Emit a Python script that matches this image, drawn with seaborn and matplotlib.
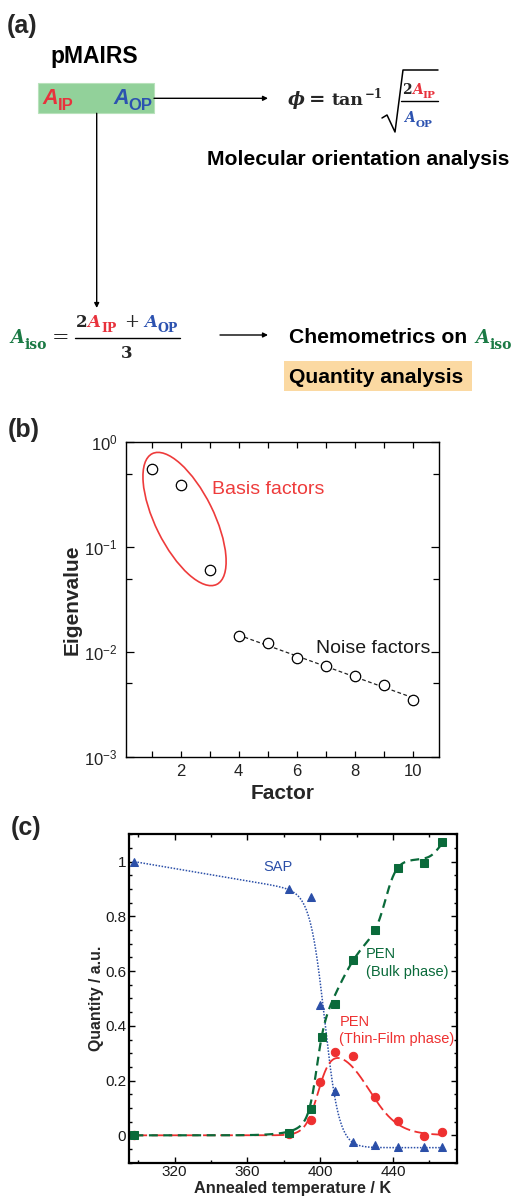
import numpy as np
import pandas as pd
import matplotlib
matplotlib.use("Agg")
import matplotlib.pyplot as plt
import seaborn as sns
from matplotlib.patches import Ellipse, Rectangle, FancyArrowPatch
from matplotlib.lines import Line2D
from matplotlib.ticker import FixedLocator, MultipleLocator, LogLocator, LogFormatterMathtext, NullFormatter, FuncFormatter

# ---------------- data ----------------
factor = [1, 2, 3, 4, 5, 6, 7, 8, 9, 10]
eigenvalue = [0.556, 0.394, 0.061, 0.0141, 0.0121, 0.0087, 0.0073, 0.0059, 0.0048, 0.0035]

temp_sap = [298, 383, 395, 400, 408, 418, 430, 443, 457, 467]
q_sap = [1.0, 0.901, 0.870, 0.475, 0.161, -0.024, -0.035, -0.042, -0.044, -0.041]
temp_bulk = [298, 383, 395, 401, 408, 418, 430, 443, 457, 467]
q_bulk = [0.0, 0.009, 0.097, 0.36, 0.481, 0.64, 0.752, 0.978, 0.996, 1.072]
temp_thin = [298, 383, 395, 400, 408, 418, 430, 443, 457, 467]
q_thin = [0.0, 0.005, 0.055, 0.194, 0.305, 0.29, 0.139, 0.051, -0.002, 0.011]

# fitted-curve model parameters (sigmoid models)
sap_fit = dict(p0=1.0, p1=-0.00113, c=402.5, w=4.0, floor=-0.045)
bulk_fit_terms = [(0.33, 398, 2.2), (0.42, 410, 8.0), (0.26, 436, 3.0), (0.08, 465, 2.5)]
thin_fit = dict(A=0.33, c1=399, w1=3.5, c2=427, w2=8.0)

x_ticks_c = [320, 360, 400, 440]
y_ticks_c = [0, 0.2, 0.4, 0.6, 0.8, 1.0]
x_ticks_b = [2, 4, 6, 8, 10]

# ---------------- style ----------------
sns.set_theme(style="ticks")
plt.rcParams['font.family'] = ['Liberation Sans', 'DejaVu Sans']
plt.rcParams['mathtext.fontset'] = 'custom'
plt.rcParams['mathtext.rm'] = 'Liberation Sans'
plt.rcParams['mathtext.it'] = 'Liberation Sans:italic'
plt.rcParams['mathtext.bf'] = 'Liberation Sans:bold'
plt.rcParams['axes.edgecolor'] = 'black'

W, H = 515, 1197
fig = plt.figure(figsize=(W / 100, H / 100), dpi=100)
fig.patch.set_facecolor('white')
renderer = fig.canvas.get_renderer()

RED = '#e8323c'
BLUE = '#2c52b0'
GREEN = '#1b7a45'
SERIF = 'DejaVu Serif'


def put(x, y, s, **kw):
    kw.setdefault('va', 'baseline')
    kw.setdefault('ha', 'left')
    return fig.text(x / W, 1 - y / H, s, **kw)


def width(t):
    return t.get_window_extent(renderer=renderer).width


def sym(x, y, main, sub, color, size, subsize, family=SERIF, sub_dy=None, gap=0.5):
    t = put(x, y, main, color=color, fontsize=size, family=family, style='italic', weight='bold')
    w = width(t)
    dy = sub_dy if sub_dy is not None else size * 0.3 * 100 / 72
    t2 = put(x + w + gap, y + dy, sub, color=color, fontsize=subsize, family=family, weight='bold')
    return x + w + gap + width(t2)


def fline(xs, ys, **kw):
    fig.add_artist(Line2D([v / W for v in xs], [1 - v / H for v in ys], transform=fig.transFigure, **kw))


def farrow(p0, p1):
    fig.add_artist(FancyArrowPatch((p0[0] / W, 1 - p0[1] / H), (p1[0] / W, 1 - p1[1] / H),
                                   transform=fig.transFigure, arrowstyle='-|>', mutation_scale=7,
                                   lw=1.0, color='black', shrinkA=0, shrinkB=0))


# ---------------- panel (a) ----------------
DARK = '#262626'
put(7, 33, '(a)', fontsize=18, weight='bold', color=DARK)
put(50, 63.5, 'pMAIRS', fontsize=16.5, weight='bold', color='black')

fig.add_artist(Rectangle((38.3 / W, 1 - 113.3 / H), (154 - 38.3) / W, 30 / H, transform=fig.transFigure,
                         facecolor='#92d19a', edgecolor='#b8e2bb', lw=0.8))
sym(42, 104.5, 'A', 'IP', RED, 15.5, 12, family='Liberation Sans', sub_dy=5, gap=0)
sym(113, 104.5, 'A', 'OP', BLUE, 15.5, 12, family='Liberation Sans', sub_dy=5, gap=0)

farrow((154, 98.3), (268, 98.3))
farrow((96.7, 113.3), (96.7, 308))

# phi formula
put(288, 105, 'ϕ', fontsize=13, family=SERIF, style='italic', weight='bold')
put(309, 105, '=', fontsize=14, family=SERIF, weight='bold')
t = put(332, 105, 'tan', fontsize=12.5, family=SERIF, weight='bold')
put(332 + width(t) + 1, 98, '−1', fontsize=8.5, family=SERIF, weight='bold')
fline([382, 387, 395, 403, 438], [118, 115, 132, 70, 70], color='black', lw=1.1)
t2 = put(402, 94.3, '2', fontsize=10, family=SERIF, weight='bold')
sym(402 + width(t2), 94.3, 'A', 'IP', RED, 10, 7.5)
fline([401, 438], [100.7, 100.7], color='black', lw=1.0)
sym(404, 122.5, 'A', 'OP', BLUE, 10, 7.5)

put(207, 165, 'Molecular orientation analysis', fontsize=15.2, weight='bold', color='black')

# A_iso formula
sym(10, 343.3, 'A', 'iso', GREEN, 13, 10)
put(52, 343.3, '=', fontsize=15, family=SERIF)
t3 = put(76, 326.7, '2', fontsize=12, family=SERIF, weight='bold')
sym(76 + width(t3), 326.7, 'A', 'IP', RED, 12, 9)
put(124, 326.7, '+', fontsize=13, family=SERIF)
sym(144, 326.7, 'A', 'OP', BLUE, 12, 9)
fline([75, 180], [338.3, 338.3], color='black', lw=1.0)
put(126.7, 358.3, '3', fontsize=12, family=SERIF, weight='bold', ha='center')

farrow((220, 335), (268, 335))
put(289, 343.3, 'Chemometrics on', fontsize=15.2, weight='bold', color='black')
sym(475, 343.3, 'A', 'iso', GREEN, 13, 10)

fig.add_artist(Rectangle((284 / W, 1 - 390.7 / H), (472 - 284) / W, 30 / H, transform=fig.transFigure,
                         facecolor='#fbd9a2', edgecolor='none'))
put(289, 383.3, 'Quantity analysis', fontsize=15.2, weight='bold', color='black')

# ---------------- panel (b) ----------------
put(8, 437.3, '(b)', fontsize=18, weight='bold', color=DARK)
axb = fig.add_axes([126 / W, 1 - 756.7 / H, (439 - 126) / W, (756.7 - 442.3) / H])
axb.set_yscale('log')

df_b = pd.DataFrame({'factor': factor, 'eigenvalue': eigenvalue})
noise = df_b[df_b['factor'] >= 4]
coef = np.polyfit(noise['factor'], np.log10(noise['eigenvalue']), 1)
fit_x = np.array([noise['factor'].min(), noise['factor'].max()])
fit_df = pd.DataFrame({'factor': fit_x, 'eigenvalue': 10 ** np.polyval(coef, fit_x)})
sns.lineplot(data=fit_df, x='factor', y='eigenvalue', ax=axb, color='#222222', lw=0.9,
             linestyle=(0, (3, 2)), errorbar=None)
sns.lineplot(data=df_b, x='factor', y='eigenvalue', ax=axb, linestyle='', marker='o', markersize=7.5,
             markerfacecolor='white', markeredgecolor='black', markeredgewidth=0.9, errorbar=None)

axb.set_xlim(0.12, 10.9)
axb.set_ylim(1e-3, 1)
axb.xaxis.set_major_locator(FixedLocator(x_ticks_b))
axb.xaxis.set_minor_locator(FixedLocator([1, 3, 5, 7, 9]))
axb.yaxis.set_major_locator(LogLocator(base=10, numticks=10))
axb.yaxis.set_minor_locator(LogLocator(base=10, subs=[5.0], numticks=10))
axb.yaxis.set_major_formatter(LogFormatterMathtext())
axb.yaxis.set_minor_formatter(NullFormatter())
axb.tick_params(which='both', direction='in', top=True, right=True, width=0.9, colors='black',
                labelsize=12, labelcolor='#222222')
axb.tick_params(axis='x', which='both', length=4, pad=5)
axb.tick_params(axis='y', which='major', length=6, pad=6)
axb.tick_params(axis='y', which='minor', length=4)
for sp in axb.spines.values():
    sp.set_linewidth(1.0)
axb.set_xlabel('Factor', fontsize=15, weight='bold', labelpad=4)
axb.set_ylabel('Eigenvalue', fontsize=15, weight='bold', labelpad=2)

axb.add_patch(Ellipse((0.187, 0.756), 0.187, 0.464, angle=26.4, transform=axb.transAxes,
                      fill=False, edgecolor='#ee3b3b', lw=1.2))
axb.text(0.274, 0.850, 'Basis factors', transform=axb.transAxes, color='#ee3b3b', fontsize=14, va='center')
axb.text(0.607, 0.345, 'Noise factors', transform=axb.transAxes, color='#1a1a1a', fontsize=14, va='center')

# ---------------- panel (c) ----------------
put(11, 835, '(c)', fontsize=18, weight='bold', color=DARK)
axc = fig.add_axes([129 / W, 1 - 1162.7 / H, (456.7 - 129) / W, (1162.7 - 834.3) / H])


def sig(z):
    return 1.0 / (1.0 + np.exp(-z))


T = np.linspace(298, 467, 400)
s = 1 - sig((T - sap_fit['c']) / sap_fit['w'])
sap_curve = (sap_fit['p0'] + sap_fit['p1'] * (T - 298)) * s + sap_fit['floor'] * (1 - s)
bulk_curve = sum(a * sig((T - c) / w) for a, c, w in bulk_fit_terms)
thin_curve = thin_fit['A'] * sig((T - thin_fit['c1']) / thin_fit['w1']) * (1 - sig((T - thin_fit['c2']) / thin_fit['w2']))

C_SAP = '#2b4fa8'
C_BULK = '#0a6a3a'
C_THIN = '#ee3030'

sns.lineplot(x=T, y=sap_curve, ax=axc, color=C_SAP, lw=1.1, linestyle=(0, (1, 1)), errorbar=None)
sns.lineplot(x=T, y=thin_curve, ax=axc, color=C_THIN, lw=1.3, linestyle=(0, (7, 2.5)), errorbar=None)
sns.lineplot(x=T, y=bulk_curve, ax=axc, color=C_BULK, lw=1.6, linestyle=(0, (4, 2.5)), errorbar=None)

sns.lineplot(x=temp_sap, y=q_sap, ax=axc, linestyle='', marker='^', markersize=6, color=C_SAP,
             markeredgecolor=C_SAP, errorbar=None)
sns.lineplot(x=temp_thin, y=q_thin, ax=axc, linestyle='', marker='o', markersize=6, color=C_THIN,
             markeredgecolor=C_THIN, errorbar=None)
sns.lineplot(x=temp_bulk, y=q_bulk, ax=axc, linestyle='', marker='s', markersize=6.2, color=C_BULK,
             markeredgecolor=C_BULK, errorbar=None)

axc.set_xlim(295, 475)
axc.set_ylim(-0.1, 1.1)
axc.xaxis.set_major_locator(FixedLocator(x_ticks_c))
axc.xaxis.set_minor_locator(MultipleLocator(20))
axc.yaxis.set_major_locator(FixedLocator(y_ticks_c))
axc.yaxis.set_minor_locator(MultipleLocator(0.05))
axc.yaxis.set_major_formatter(FuncFormatter(lambda v, p: f'{v:g}'))
axc.tick_params(which='both', direction='in', top=True, right=True, width=1.0, colors='black',
                labelsize=11, labelcolor='#1a1a1a', pad=2)
axc.tick_params(which='major', length=4)
axc.tick_params(which='minor', length=2.5)
for sp in axc.spines.values():
    sp.set_linewidth(1.6)
axc.set_xlabel('Annealed temperature / K', fontsize=11.7, weight='bold', labelpad=1)
axc.set_ylabel('Quantity / a.u.', fontsize=11.4, weight='bold', labelpad=1)


def ctext(x, y, s, color):
    axc.text((x - 129) / (456.7 - 129), (1162.7 - y) / (1162.7 - 834.3), s, transform=axc.transAxes,
             color=color, fontsize=10.5, va='center', ha='left')


ctext(263, 866.7, 'SAP', C_SAP)
ctext(366, 954, 'PEN', C_BULK)
ctext(366, 971.7, '(Bulk phase)', C_BULK)
ctext(339.3, 1022.3, 'PEN', C_THIN)
ctext(339.3, 1039.3, '(Thin-Film phase)', C_THIN)

fig.savefig('out.png', dpi=100)
